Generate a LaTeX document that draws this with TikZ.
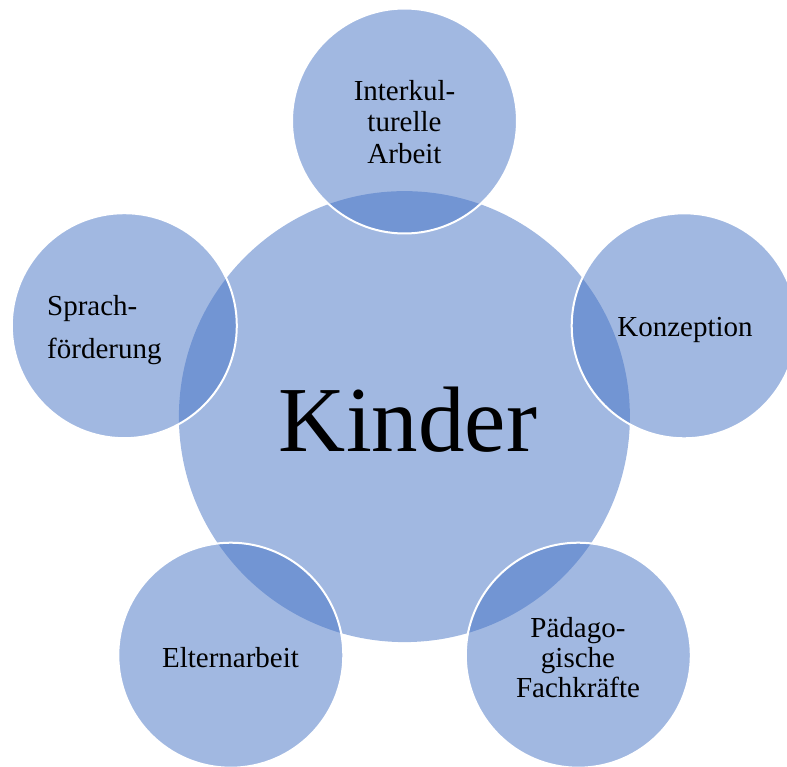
\documentclass[tikz,border=0pt]{standalone}
\usepackage{fontspec}
\setmainfont{Liberation Serif}
\definecolor{accent}{HTML}{4472C4}
\begin{document}
\begin{tikzpicture}[x=1pt,y=-1pt,
  hub/.style={circle, fill=accent, fill opacity=0.5, draw=none, minimum size=451pt, inner sep=0pt},
  petal/.style={circle, fill=accent, fill opacity=0.5, draw=white, line width=2pt, minimum size=225pt, inner sep=0pt},
  label/.style={inner sep=0pt, text=black, font=\fontsize{29}{31.5}\selectfont},
  biglabel/.style={inner sep=0pt, text=black, font=\fontsize{93}{100}\selectfont}]
\useasboundingbox (0,0) rectangle (787,767);
\clip (0,0) rectangle (787,767);
% central circle
\node[hub] (kinder) at (404.4,416.6) {};
% satellite circles
\node[petal] (top) at (404.5,121) {};
\node[petal] (right) at (684.2,325.8) {};
\node[petal] (left) at (124.3,325.7) {};
\node[petal] (botleft) at (230.8,655.2) {};
\node[petal] (botright) at (578.3,655.2) {};
% texts
\node[biglabel, anchor=base] (tkinder) at (408,451) {Kinder};
\node[label, align=center, anchor=center] (ttop) at (404.5,122) {Interkul-\\turelle\\Arbeit};
\node[label, anchor=base] (tright) at (685,336.7) {Konzeption};
\node[label, align=left, anchor=west, font=\fontsize{29}{43}\selectfont] (tleft) at (47,330) {Sprach-\\förderung};
\node[label, anchor=base] (tbotleft) at (230.5,667) {Elternarbeit};
\node[label, align=center, anchor=center, font=\fontsize{29}{30}\selectfont] (tbotright) at (578,657.2) {Pädago-\\gische\\Fachkräfte};
\end{tikzpicture}
\end{document}
